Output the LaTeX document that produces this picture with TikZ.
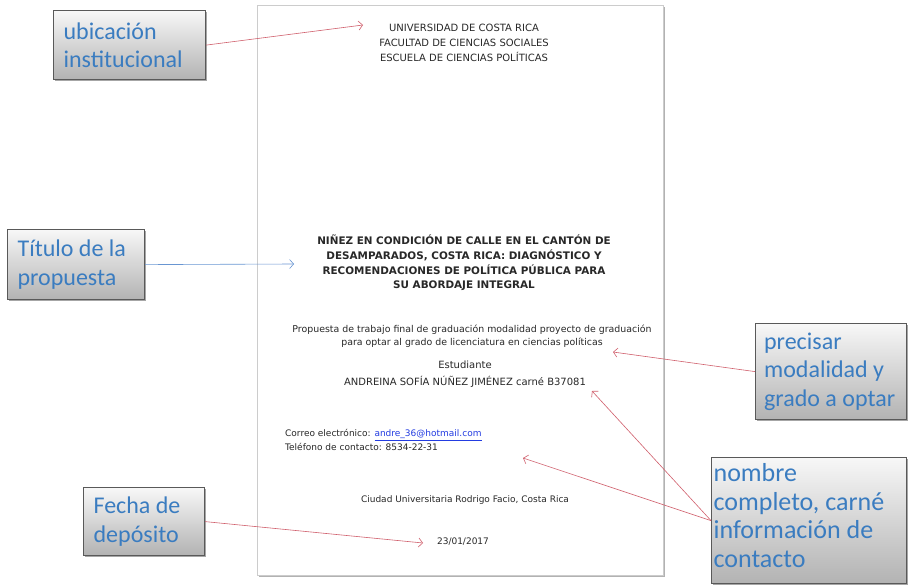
\documentclass[tikz,border=0pt]{standalone}
\usepackage{fontspec}
\setmainfont{DejaVu Sans}
\newfontfamily\boxfont{Carlito}
\usetikzlibrary{arrows.meta, shadows}

\definecolor{calloutblue}{RGB}{58,124,192}
\definecolor{arrowred}{RGB}{208,95,108}
\definecolor{arrowblue}{RGB}{105,150,210}
\definecolor{pagetext}{RGB}{40,40,40}
\definecolor{linkblue}{RGB}{35,60,225}

\tikzset{
  callout/.style={draw=black!65, line width=1.2pt, top color=black!3, bottom color=black!30,
    text=calloutblue, font=\boxfont\fontsize{24}{28.5}\selectfont, align=flush left,
    inner xsep=10pt, inner ysep=0pt, anchor=north west,
    general shadow={shadow xshift=1.5pt, shadow yshift=-1.5pt, fill=black!35}},
  pointer/.style={arrowred, line width=0.6pt, -{Straight Barb[length=4pt,width=9pt]}},
  pagetxt/.style={text=pagetext, font=\fontsize{10}{12}\selectfont, inner sep=0pt, align=center}
}

\begin{document}
\begin{tikzpicture}[x=1pt, y=-1pt]
  \useasboundingbox (0,0) rectangle (910,586);

  \node[draw=black!20, fill=white, anchor=north west, minimum width=406pt, minimum height=570pt,
    general shadow={shadow xshift=1.5pt, shadow yshift=-2pt, fill=black!30}] (page) at (257,5) {};

  \node[pagetxt, font=\fontsize{10}{15}\selectfont] (head) at (464,43)
    {UNIVERSIDAD DE COSTA RICA\\FACULTAD DE CIENCIAS SOCIALES\\ESCUELA DE CIENCIAS POLÍTICAS};
  \node[pagetxt, font=\bfseries\fontsize{10.4}{14.7}\selectfont] (title) at (464,263)
    {NIÑEZ EN CONDICIÓN DE CALLE EN EL CANTÓN DE\\DESAMPARADOS, COSTA RICA: DIAGNÓSTICO Y\\
     RECOMENDACIONES DE POLÍTICA PÚBLICA PARA\\SU ABORDAJE INTEGRAL};
  \node[pagetxt, font=\fontsize{9.4}{12.5}\selectfont] (prop) at (472,336)
    {Propuesta de trabajo final de graduación modalidad proyecto de graduación\\
     para optar al grado de licenciatura en ciencias políticas};
  \node[pagetxt] (estud) at (465,365) {Estudiante};
  \node[pagetxt] (alumna) at (465,382) {ANDREINA SOFÍA NÚÑEZ JIMÉNEZ carné B37081};
  \node[pagetxt, align=left, anchor=west, font=\fontsize{9}{14}\selectfont] (contacto) at (285,440)
    {Correo electrónico: \textcolor{linkblue}{\underline{andre\_36@hotmail.com}}\\Teléfono de contacto: 8534-22-31};
  \node[pagetxt, font=\fontsize{9}{12}\selectfont] (ciudad) at (465,500) {Ciudad Universitaria Rodrigo Facio, Costa Rica};
  \node[pagetxt, font=\fontsize{9}{12}\selectfont] (fechatxt) at (463,542) {23/01/2017};

  \node[callout, text width=132pt, minimum height=69pt] (ubic) at (53,10) {ubicación\\institucional};
  \node[callout, text width=117pt, minimum height=70pt] (tit) at (7,229) {Título de la\\propuesta};
  \node[callout, text width=134pt, inner xsep=8.5pt, minimum height=96pt] (modal) at (755,323)
    {precisar\\modalidad y\\grado a optar};
  \node[callout, font=\boxfont\fontsize{26}{28.5}\selectfont, text width=191pt, inner xsep=2pt,
    minimum height=126pt] (nombre) at (711,457)
    {nombre\\completo, carné\\información de\\contacto\par\vspace*{10pt}};
  \node[callout, text width=101pt, minimum height=68pt] (fecha) at (83,487) {Fecha de\\depósito};

  \coordinate (ubicEnd) at (363,25);
  \coordinate (titEnd) at (294,264);
  \coordinate (modEnd) at (613,352);
  \coordinate (nomEnd) at (592,391);
  \coordinate (conEnd) at (523,458);
  \coordinate (fecEnd) at (423,543);

  \draw[pointer] (ubic.east) -- (ubicEnd);
  \draw[pointer, arrowblue] (tit.east) -- (titEnd);
  \draw[pointer] (modal.west) -- (modEnd);
  \draw[pointer] (nombre.west) -- (nomEnd);
  \draw[pointer] (nombre.west) -- (conEnd);
  \draw[pointer] (fecha.east) -- (fecEnd);
\end{tikzpicture}
\end{document}
